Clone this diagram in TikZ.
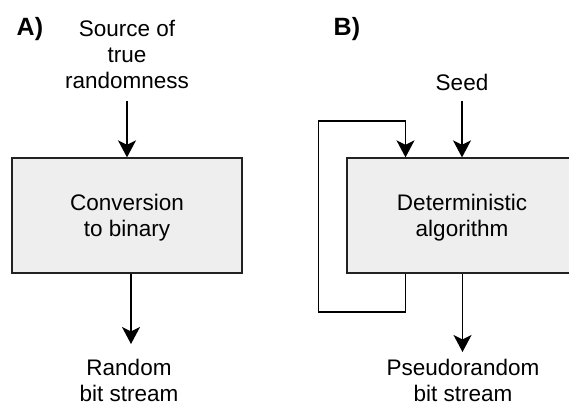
\documentclass[tikz,border=0pt]{standalone}
\usepackage{fontspec}
\setmainfont{Liberation Sans}
\usetikzlibrary{arrows.meta}
\definecolor{boxfill}{HTML}{EEEEEE}
\definecolor{boxline}{HTML}{222222}
\tikzset{
  lbl/.style={font=\fontsize{22.5}{26}\selectfont, align=center, inner sep=0pt},
  panel/.style={font=\fontsize{25}{28}\selectfont\bfseries, inner sep=0pt, anchor=north west},
  block/.style={draw=boxline, fill=boxfill, line width=1.3pt, minimum width=230pt,
    minimum height=115pt, inner sep=0pt, align=center,
    font=\fontsize{22.5}{26}\selectfont},
  flow/.style={line width=1.5pt, -{Stealth[length=17pt, width=18pt, inset=4.5pt]}},
  wire/.style={line width=1.5pt}
}
\newcommand{\uplift}{\rule{0pt}{21pt}}
\begin{document}
\begin{tikzpicture}[x=1pt, y=-1pt]
  \useasboundingbox (0,0) rectangle (569,401);
  \clip (0,0) rectangle (569,401);

  % panel A: true random generator
  \node[panel] (pa) at (16.5,17.5) {A)};
  \node[lbl, anchor=north] (src) at (127,19.6) {Source of\\true\\randomness};
  \node[block] (conv) at (127,215.5) {\uplift Conversion\\to binary};
  \coordinate (convin) at (127,101);
  \draw[flow] (convin) -- (conv.north);
  \node[lbl, anchor=north] (rnd) at (129,359) {Random\\bit stream};
  \coordinate (convout) at (131,344);
  \draw[flow] (conv.south -| convout) -- (convout);

  % panel B: pseudorandom generator with feedback
  \node[panel] (pb) at (333.5,17.5) {B)};
  \node[lbl, anchor=north] (seed) at (462,74) {Seed};
  \node[block] (alg) at (462,215.5) {\uplift Deterministic\\algorithm};
  \coordinate (seedin) at (462,101);
  \draw[flow] (seedin) -- (alg.north);
  \coordinate (fbx) at (405.5,0);
  \coordinate (fbbot) at (318.5,312);
  \coordinate (fbtop) at (318.5,121);
  \draw[wire] (alg.south -| fbx) |- (fbbot) -- (fbtop) -| (alg.north -| fbx);
  \draw[flow] (fbtop -| fbx) -- (alg.north -| fbx);
  \node[lbl, anchor=north] (prnd) at (463,359) {Pseudorandom\\bit stream};
  \coordinate (algout) at (462.5,352);
  \draw[flow] (alg.south -| algout) -- (algout);
\end{tikzpicture}
\end{document}
